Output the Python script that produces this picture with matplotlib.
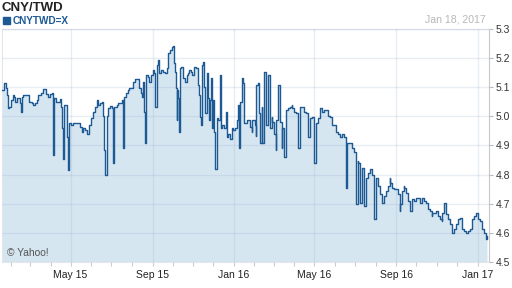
import datetime as dt
import matplotlib
matplotlib.use("Agg")
import matplotlib.pyplot as plt
import matplotlib.dates as mdates

plt.rcParams['font.family'] = ['Liberation Sans', 'DejaVu Sans']

# days since 2015-01-18 and CNY/TWD close
start = dt.date(2015, 1, 18)
end = dt.date(2017, 1, 18)
day_offset = [
    0, 3, 6, 8, 9, 11, 14, 17, 18, 20, 23, 27, 28, 30, 32, 39, 40, 45, 46, 50,
    52, 54, 58, 62, 63, 66, 69, 72, 75, 76, 77, 78, 81, 84, 87, 88, 90, 91, 93, 96,
    97, 99, 100, 103, 106, 112, 117, 120, 121, 124, 127, 130, 133, 136, 139, 142, 144, 147, 150, 151,
    153, 154, 157, 159, 162, 165, 166, 167, 168, 172, 174, 178, 180, 181, 182, 183, 186, 189, 190, 193,
    196, 199, 202, 205, 208, 210, 211, 213, 214, 216, 219, 220, 223, 226, 228, 229, 230, 232, 234, 235,
    238, 241, 244, 247, 249, 252, 255, 256, 258, 259, 261, 262, 263, 264, 265, 267, 268, 270, 271, 274,
    277, 279, 280, 283, 285, 288, 291, 292, 294, 295, 297, 298, 300, 301, 303, 304, 307, 309, 310, 312,
    313, 315, 316, 318, 319, 320, 322, 324, 327, 328, 330, 333, 336, 337, 339, 342, 345, 346, 350, 352,
    354, 355, 357, 360, 361, 363, 368, 372, 375, 376, 380, 381, 382, 384, 386, 388, 390, 391, 393, 394,
    396, 397, 399, 400, 403, 405, 406, 408, 411, 412, 414, 415, 418, 420, 421, 423, 426, 427, 429, 432,
    435, 436, 439, 442, 444, 445, 447, 448, 451, 453, 456, 459, 460, 462, 465, 466, 468, 469, 471, 474,
    475, 478, 481, 484, 487, 489, 492, 495, 496, 499, 502, 504, 507, 510, 511, 514, 516, 517, 518, 520,
    525, 526, 529, 531, 532, 534, 535, 537, 538, 540, 541, 543, 544, 547, 549, 552, 555, 556, 558, 559,
    561, 562, 565, 567, 570, 571, 573, 576, 577, 579, 582, 583, 586, 588, 592, 595, 597, 598, 600, 601,
    603, 604, 607, 609, 612, 615, 616, 619, 622, 624, 627, 630, 631, 634, 637, 639, 642, 645, 646, 649,
    652, 654, 657, 660, 661, 663, 666, 667, 669, 672, 675, 676, 679, 682, 684, 687, 690, 691, 694, 697,
    699, 702, 705, 706, 709, 712, 714, 715, 717, 720, 721, 724, 727, 728,
]
rate = [
    5.090, 5.114, 5.097, 5.072, 5.028, 5.031, 5.055, 5.072, 5.066, 5.048, 5.062, 5.045, 5.014, 5.066, 5.072, 5.072, 5.048, 5.045, 5.038, 5.045,
    5.055, 5.072, 5.079, 5.093, 5.093, 5.076, 5.066, 5.076, 5.079, 4.969, 4.866, 5.062, 5.048, 5.048, 5.059, 5.031, 4.959, 4.855, 5.038, 5.038,
    4.928, 4.817, 4.976, 4.969, 4.976, 4.976, 4.962, 4.945, 4.959, 4.952, 4.941, 4.969, 4.993, 5.014, 5.031, 5.055, 5.038, 5.045, 5.048, 5.003,
    4.883, 4.797, 5.003, 5.028, 5.034, 5.028, 4.934, 4.841, 5.031, 5.038, 5.045, 5.045, 5.055, 4.979, 4.893, 5.066, 5.079, 5.090, 5.097, 5.097,
    5.117, 5.128, 5.128, 5.097, 5.079, 5.066, 5.117, 5.014, 4.910, 5.141, 5.134, 5.117, 5.141, 5.159, 5.148, 5.100, 5.031, 5.176, 5.193, 5.148,
    5.159, 5.152, 5.148, 5.166, 5.217, 5.228, 5.238, 5.241, 5.183, 5.152, 5.097, 4.986, 5.090, 5.062, 4.945, 5.166, 5.169, 5.169, 5.131, 5.117,
    5.141, 5.148, 5.159, 5.152, 5.141, 5.169, 5.166, 5.166, 5.107, 5.072, 4.997, 4.969, 5.176, 5.186, 5.100, 5.010, 5.148, 5.062, 4.986, 5.055,
    5.131, 4.959, 5.055, 4.945, 4.907, 4.821, 4.993, 4.986, 5.141, 4.959, 4.969, 4.959, 5.014, 4.928, 4.941, 4.924, 4.959, 4.952, 4.959, 4.986,
    5.038, 4.893, 5.048, 5.131, 5.114, 4.976, 4.986, 4.962, 4.945, 4.986, 4.969, 4.934, 5.107, 5.114, 5.010, 4.910, 5.031, 4.907, 5.066, 5.152,
    5.031, 4.969, 5.055, 5.141, 4.959, 4.997, 4.979, 4.941, 4.883, 4.986, 5.079, 5.107, 4.979, 4.893, 4.959, 4.859, 4.997, 5.021, 5.028, 5.031,
    5.038, 5.028, 5.014, 5.010, 5.010, 4.890, 4.959, 5.031, 5.031, 5.014, 5.010, 4.934, 4.928, 4.993, 4.997, 4.997, 4.924, 4.841, 4.976, 4.993,
    4.993, 5.028, 5.014, 5.021, 5.021, 5.003, 4.997, 4.969, 4.972, 4.969, 4.945, 4.941, 4.928, 4.928, 4.941, 4.928, 4.841, 4.755, 4.910, 4.910,
    4.910, 4.893, 4.876, 4.786, 4.700, 4.848, 4.841, 4.772, 4.703, 4.824, 4.824, 4.769, 4.693, 4.790, 4.807, 4.821, 4.814, 4.797, 4.721, 4.648,
    4.786, 4.790, 4.762, 4.734, 4.721, 4.703, 4.728, 4.728, 4.745, 4.762, 4.790, 4.772, 4.755, 4.752, 4.752, 4.734, 4.676, 4.700, 4.721, 4.745,
    4.762, 4.755, 4.738, 4.710, 4.676, 4.703, 4.717, 4.710, 4.721, 4.721, 4.703, 4.721, 4.721, 4.710, 4.703, 4.683, 4.676, 4.659, 4.669, 4.669,
    4.676, 4.659, 4.648, 4.641, 4.669, 4.703, 4.683, 4.666, 4.648, 4.631, 4.614, 4.600, 4.614, 4.631, 4.648, 4.652, 4.634, 4.614, 4.607, 4.600,
    4.607, 4.614, 4.631, 4.648, 4.659, 4.669, 4.659, 4.648, 4.641, 4.617, 4.614, 4.600, 4.579, 4.590,
]

dates = [start + dt.timedelta(days=d) for d in day_offset]

line_col = '#1d5a94'
fill_col = '#d6e6f1'

fig = plt.figure(figsize=(5.12, 2.88), dpi=100)
ax = fig.add_axes([2 / 512, 26 / 288, 487 / 512, 233 / 288])

ax.fill_between(dates, rate, 4.5, step='post', color=fill_col, lw=0, zorder=1)
ax.plot(dates, rate, drawstyle='steps-post', color=line_col, lw=1.0, zorder=3)

ax.set_xlim(start, end)
ax.set_ylim(4.5, 5.3)
ax.set_yticks([4.5, 4.6, 4.7, 4.8, 4.9, 5.0, 5.1, 5.2, 5.3])
ax.yaxis.tick_right()
ax.yaxis.set_major_formatter(plt.FormatStrFormatter('%.1f'))

ax.xaxis.set_major_locator(mdates.MonthLocator(bymonth=[1, 5, 9]))
ax.xaxis.set_minor_locator(mdates.MonthLocator())
ax.xaxis.set_major_formatter(mdates.DateFormatter('%b %y'))

ax.grid(True, which='major', color='#8ea9c8', alpha=0.2, lw=1.0, zorder=2)
ax.set_axisbelow(False)

ax.tick_params(axis='y', which='major', length=3, width=0.8, color='#bbbbbb',
               labelsize=7.5, labelcolor='#333333', pad=2)
ax.tick_params(axis='x', which='both', length=3, width=0.8, color='#cccccc',
               labelsize=7.5, labelcolor='#222222', pad=3)

for side in ['top', 'left', 'bottom']:
    ax.spines[side].set_color('#e2e7ee')
    ax.spines[side].set_linewidth(0.8)
ax.spines['right'].set_color('#c8c8c8')
ax.spines['right'].set_linewidth(0.8)

fig.text(2 / 512, 1 - 8 / 288, 'CNY/TWD', fontsize=9.5, fontweight='bold',
         color='#222222', va='center', ha='left')
fig.patches.append(plt.Rectangle((3 / 512, 1 - 24 / 288), 7 / 512, 7 / 288,
                                 transform=fig.transFigure, color=line_col))
fig.text(13 / 512, 1 - 20.5 / 288, 'CNYTWD=X', fontsize=7.2, fontweight='bold',
         color=line_col, va='center', ha='left')
fig.text(486 / 512, 1 - 20 / 288, 'Jan 18, 2017', fontsize=7.6,
         color='#b8b8b8', va='center', ha='right')
fig.text(7 / 512, 1 - 253 / 288, '\u00a9 Yahoo!', fontsize=7.4,
         color='#555555', va='center', ha='left', zorder=5)

fig.savefig('out.png', dpi=100)
